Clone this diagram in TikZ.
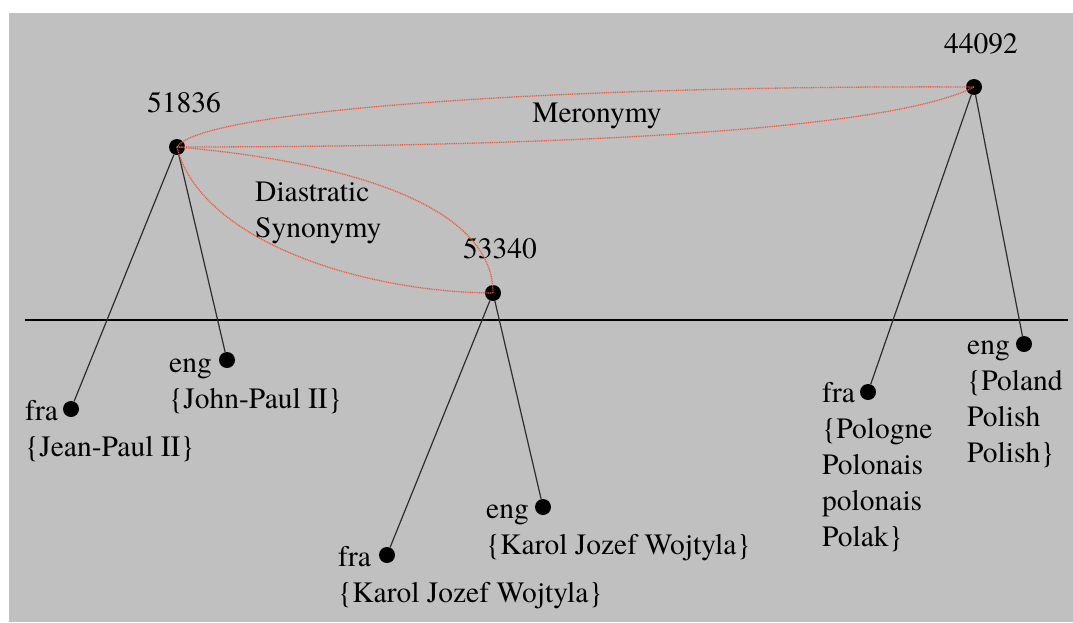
\documentclass[tikz,border=0pt]{standalone}
\usepackage{fontspec}
\setmainfont{TeX Gyre Termes}
\definecolor{bgc}{RGB}{192,192,192}
\definecolor{relc}{RGB}{240,90,60}
\definecolor{edgec}{RGB}{45,45,45}
\begin{document}
\begin{tikzpicture}[x=1pt,y=-1pt,
  dot/.style={circle,fill=black,inner sep=0pt,minimum size=16pt},
  lbl/.style={font=\fontsize{29.5}{36}\selectfont,inner sep=0pt},
  edge/.style={draw=edgec,line width=1.2pt},
  rel/.style={draw=relc,line width=1.3pt,dash pattern=on 1pt off 0.8pt},
  divider/.style={draw=black,line width=2.4pt}]
\useasboundingbox (0,0) rectangle (1073,622);
\fill[bgc] (9,13) rectangle (1073,622);
% divider
\coordinate (dl) at (25,320);
\coordinate (dr) at (1068,320);
\draw[divider] (dl) -- (dr);
% dots
\node[dot] (n51836) at (177,147) {};
\node[dot] (n44092) at (974,87) {};
\node[dot] (n53340) at (493,293) {};
\node[dot] (f1) at (71,409) {};
\node[dot] (e1) at (227,360) {};
\node[dot] (f2) at (387,555) {};
\node[dot] (e2) at (543,507) {};
\node[dot] (f3) at (868,392) {};
\node[dot] (e3) at (1024,344) {};
% labels
\node[lbl,anchor=base] (l51836) at (184,112) {51836};
\node[lbl,anchor=base] (l44092) at (981,53) {44092};
\node[lbl,anchor=base] (l53340) at (500,258) {53340};
\node[lbl,anchor=base] (lmero) at (597,122) {Meronymy};
\node[lbl,anchor=base west] (ldia) at (255,201) {\begin{tabular}[t]{@{}l@{}}Diastratic\\Synonymy\end{tabular}};
% leaf texts
\node[lbl,anchor=base west] (tf1) at (25,420) {\begin{tabular}[t]{@{}l@{}}fra\\\{Jean-Paul II\}\end{tabular}};
\node[lbl,anchor=base west] (te1) at (169,372) {\begin{tabular}[t]{@{}l@{}}eng\\\{John-Paul II\}\end{tabular}};
\node[lbl,anchor=base west] (tf2) at (338,566) {\begin{tabular}[t]{@{}l@{}}fra\\\{Karol Jozef Wojtyla\}\end{tabular}};
\node[lbl,anchor=base west] (te2) at (486,518) {\begin{tabular}[t]{@{}l@{}}eng\\\{Karol Jozef Wojtyla\}\end{tabular}};
\node[lbl,anchor=base west] (tf3) at (822,402) {\begin{tabular}[t]{@{}l@{}}fra\\\{Pologne\\Polonais\\polonais\\Polak\}\end{tabular}};
\node[lbl,anchor=base west] (te3) at (967,354) {\begin{tabular}[t]{@{}l@{}}eng\\\{Poland\\Polish\\Polish\}\end{tabular}};
% edges
\draw[edge] (n51836) -- (f1);
\draw[edge] (n51836) -- (e1);
\draw[edge] (n53340) -- (f2);
\draw[edge] (n53340) -- (e2);
\draw[edge] (n44092) -- (f3);
\draw[edge] (n44092) -- (e3);
% relations
\draw[rel] (n51836.center) .. controls (200,110) and (560,85) .. (n44092.center);
\draw[rel] (n51836.center) .. controls (500,147) and (880,135) .. (n44092.center);
\draw[rel] (n51836.center) .. controls (330,160) and (493,200) .. (n53340.center);
\draw[rel] (n51836.center) .. controls (200,240) and (360,292) .. (n53340.center);
\end{tikzpicture}
\end{document}
